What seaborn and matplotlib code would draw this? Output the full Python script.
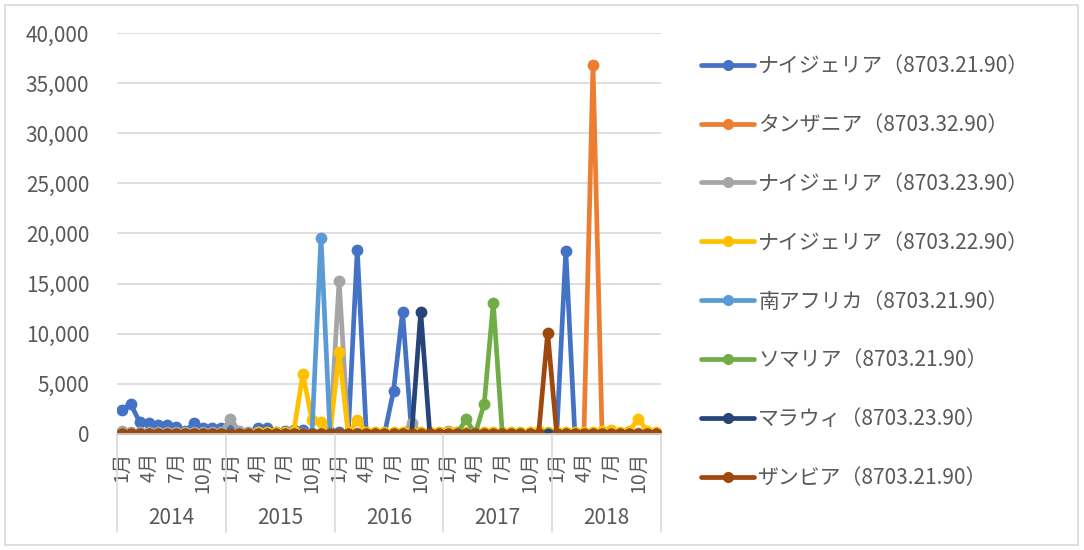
import numpy as np
import pandas as pd
import matplotlib
matplotlib.use("Agg")
import matplotlib.pyplot as plt
import matplotlib.transforms as mtransforms
from matplotlib.lines import Line2D
from matplotlib.patches import Rectangle
from matplotlib.ticker import FuncFormatter, MultipleLocator
import seaborn as sns

# ---------------- data ----------------
years = ["2014", "2015", "2016", "2017", "2018"]
month_labels = ["1月", "", "", "4月", "", "", "7月", "", "", "10月", "", ""]

series_names = [
    "ナイジェリア（8703.21.90）",
    "タンザニア（8703.32.90）",
    "ナイジェリア（8703.23.90）",
    "ナイジェリア（8703.22.90）",
    "南アフリカ（8703.21.90）",
    "ソマリア（8703.21.90）",
    "マラウィ（8703.23.90）",
    "ザンビア（8703.21.90）",
]
colors = ["#4472C4", "#ED7D31", "#A5A5A5", "#FFC000",
          "#5B9BD5", "#70AD47", "#264478", "#9E480E"]

nigeria_2190 = [
    2400, 3000, 1200, 1100, 900, 900, 650, 300, 1050, 600, 600, 600,
    500, 200, 100, 600, 600, 150, 250, 400, 400, 0, 0, 200,
    200, 0, 18400, 0, 0, 0, 4300, 12200, 0, 0, 0, 0,
    0, 0, 0, 0, 0, 0, 0, 0, 0, 0, 0, 0,
    0, 18300, 0, 0, 0, 0, 0, 0, 0, 0, 0, 0,
]
tanzania_3290 = [
    0, 0, 0, 0, 0, 0, 0, 0, 0, 0, 0, 0,
    0, 0, 0, 0, 0, 0, 0, 0, 0, 0, 0, 0,
    0, 0, 0, 0, 0, 0, 0, 0, 0, 0, 0, 0,
    0, 0, 0, 0, 0, 0, 0, 0, 0, 0, 0, 100,
    0, 0, 0, 0, 36800, 0, 0, 0, 0, 0, 0, 0,
]
nigeria_2390 = [
    300, 150, 150, 150, 150, 150, 150, 150, 150, 150, 150, 150,
    1500, 300, 200, 150, 100, 100, 100, 100, 100, 100, 100, 0,
    15300, 0, 100, 100, 100, 100, 100, 100, 1100, 100, 100, 100,
    300, 200, 100, 100, 100, 100, 100, 100, 100, 100, 100, 100,
    100, 100, 100, 100, 100, 100, 100, 100, 100, 100, 100, 100,
]
nigeria_2290 = [
    0, 0, 0, 0, 0, 0, 0, 0, 0, 0, 0, 0,
    0, 0, 0, 150, 150, 150, 200, 300, 6000, 1400, 1200, 0,
    8200, 0, 1400, 150, 150, 150, 150, 150, 150, 150, 150, 150,
    150, 150, 150, 150, 150, 150, 150, 150, 200, 200, 250, 150,
    150, 150, 150, 200, 200, 300, 400, 200, 300, 1500, 300, 150,
]
s_africa_2190 = [
    0, 0, 0, 0, 0, 0, 0, 0, 0, 0, 0, 0,
    0, 0, 0, 0, 0, 0, 0, 0, 0, 0, 19600, 0,
    0, 0, 0, 0, 0, 0, 0, 0, 0, 0, 0, 0,
    0, 0, 0, 0, 0, 0, 0, 0, 0, 0, 0, 0,
    0, 0, 0, 0, 0, 0, 0, 0, 0, 0, 0, 0,
]
somalia_2190 = [
    0, 0, 0, 0, 0, 0, 0, 0, 0, 0, 0, 0,
    0, 0, 0, 0, 0, 0, 0, 0, 0, 0, 0, 0,
    0, 0, 0, 0, 0, 0, 0, 0, 0, 0, 0, 0,
    0, 0, 1500, 0, 3000, 13100, 0, 0, 0, 0, 0, 0,
    0, 0, 0, 0, 0, 0, 0, 0, 0, 0, 0, 0,
]
malawi_2390 = [
    0, 0, 0, 0, 0, 0, 0, 0, 0, 0, 0, 0,
    0, 0, 0, 0, 0, 0, 0, 0, 0, 0, 0, 0,
    0, 0, 0, 0, 0, 0, 0, 0, 0, 12200, 0, 0,
    0, 0, 0, 0, 0, 0, 0, 0, 0, 0, 0, 0,
    0, 0, 0, 0, 0, 0, 0, 0, 0, 0, 0, 0,
]
zambia_2190 = [
    0, 0, 0, 0, 0, 0, 0, 0, 0, 0, 0, 0,
    0, 0, 0, 0, 0, 0, 0, 0, 0, 0, 0, 0,
    0, 0, 0, 0, 0, 0, 0, 0, 0, 0, 0, 0,
    0, 0, 0, 0, 0, 0, 0, 0, 0, 0, 0, 10100,
    0, 0, 0, 0, 0, 0, 0, 0, 0, 0, 0, 0,
]
all_series = [nigeria_2190, tanzania_3290, nigeria_2390, nigeria_2290,
              s_africa_2190, somalia_2190, malawi_2390, zambia_2190]

n = len(years) * 12
rows = []
for name, vals in zip(series_names, all_series):
    for i, v in enumerate(vals):
        rows.append({"idx": i, "value": v, "series": name})
df = pd.DataFrame(rows)

# ---------------- style ----------------
sns.set_theme(style="white")
plt.rcParams["font.family"] = ["Noto Sans CJK JP", "DejaVu Sans"]
text_color = "#595959"
grid_color = "#D9D9D9"

fig = plt.figure(figsize=(10.84, 5.5), dpi=100)
ax = fig.add_axes([117 / 1084, 1 - 434 / 550, (661 - 117) / 1084, (434 - 33) / 550])

sns.lineplot(data=df, x="idx", y="value", hue="series", hue_order=series_names,
             palette=colors, marker="o", markersize=8.5, markeredgewidth=0,
             linewidth=3.4, estimator=None, sort=False, legend=False, ax=ax)

ax.set_xlim(-0.5, n - 0.5)
ax.set_ylim(0, 40000)
ax.yaxis.set_major_locator(MultipleLocator(5000))
ax.yaxis.set_major_formatter(FuncFormatter(lambda v, p: f"{int(v):,}"))
ax.grid(axis="y", color=grid_color, linewidth=1.2)
ax.set_axisbelow(True)
for s in ["left", "right", "top"]:
    ax.spines[s].set_visible(False)
ax.spines["bottom"].set_color(grid_color)
ax.spines["bottom"].set_linewidth(1.2)
ax.tick_params(axis="y", length=0, pad=20, labelsize=15, labelcolor=text_color)
ax.set_xlabel("")
ax.set_ylabel("")

# month ticks
tick_pos = [i for i in range(n) if month_labels[i % 12]]
tick_lab = [month_labels[i % 12] for i in tick_pos]
ax.set_xticks(tick_pos)
ax.tick_params(axis="x", length=0, pad=13, labelcolor=text_color)
ax.set_xticklabels(tick_lab, rotation=90, va="top", ha="center",
                   fontsize=14, color=text_color)

# year group labels and separators
trans = mtransforms.blended_transform_factory(ax.transData, ax.transAxes)
for k, y in enumerate(years):
    ax.text(k * 12 + 5.5, -0.21, y, transform=trans, ha="center", va="center",
            fontsize=15, color=text_color)
for k in range(len(years) + 1):
    ax.add_line(Line2D([k * 12 - 0.5, k * 12 - 0.5], [0, -0.245], transform=trans,
                       color=grid_color, linewidth=1.2, clip_on=False))

# legend
handles = [Line2D([0], [0], color=c, linewidth=3.4, marker="o", markersize=8,
                  markeredgewidth=0) for c in colors]
leg = fig.legend(handles, series_names, loc="upper left",
                 bbox_to_anchor=(701 / 1084, 1 - 55 / 550), frameon=False,
                 fontsize=15, handlelength=2.55, handletextpad=0.2,
                 labelspacing=1.77, borderaxespad=0, borderpad=0)
for t in leg.get_texts():
    t.set_color(text_color)

# chart border
fig.patches.append(Rectangle((5 / 1084, 5 / 550), 1073 / 1084, 540 / 550,
                             transform=fig.transFigure, fill=False,
                             edgecolor=grid_color, linewidth=1.2))

fig.savefig("out.png", dpi=100)
